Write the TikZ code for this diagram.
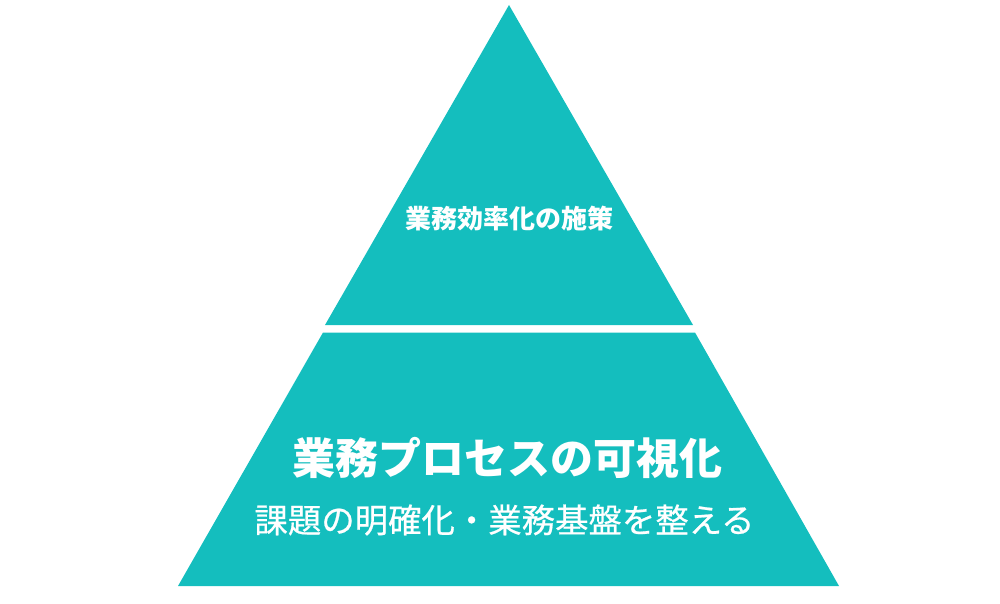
\documentclass[tikz,border=0pt]{standalone}
\usepackage{fontspec}
\newfontfamily\jpfont{Noto Sans CJK JP}
\newfontfamily\jpmedium[FakeBold=0.6]{Noto Sans CJK JP}
\usepackage{tikz}
\definecolor{pyramidteal}{HTML}{14BEBE}
\tikzset{
	layer/.style={fill=pyramidteal, draw=none},
	label/.style={text=white, inner sep=0pt, font=\jpfont}
}

\begin{document}
\begin{tikzpicture}[x=1pt, y=-1pt]
	\useasboundingbox (0,0) rectangle (1000,604);

	\coordinate (A) at (509, 5);
	\coordinate (B) at (325, 325);
	\coordinate (C) at (693, 325);
	\coordinate (D) at (323, 332.5);
	\coordinate (E) at (695, 332.5);
	\coordinate (F) at (839, 586);
	\coordinate (G) at (178, 586);

	\fill [layer] (A) -- (B) -- (C) -- cycle;
	\fill [layer] (D) -- (E) -- (F) -- (G) -- cycle;

	\node [label, font=\jpfont\bfseries\fontsize{26}{30}\selectfont] (measures) at (509, 219) {業務効率化の施策};
	\node [label, font=\jpfont\bfseries\fontsize{43}{50}\selectfont] (visualize) at (507, 458) {業務プロセスの可視化};
	\node [label, font=\jpmedium\fontsize{33.4}{38}\selectfont] (clarify) at (504.5, 520) {課題の明確化・業務基盤を整える};
\end{tikzpicture}
\end{document}
